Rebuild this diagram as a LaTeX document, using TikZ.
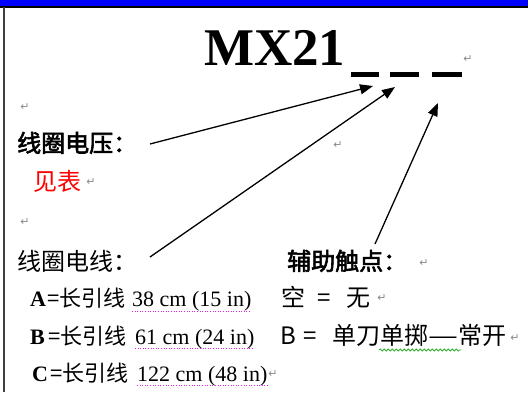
\documentclass[tikz,border=0pt]{standalone}
\usepackage{fontspec}
\setmainfont{Liberation Serif}
\newfontfamily\cjk{Noto Sans CJK SC}
\newfontfamily\cjkb[FakeBold=2.5]{Noto Sans CJK SC}
\newfontfamily\symf{DejaVu Sans}
\usetikzlibrary{arrows.meta,decorations.pathmorphing}
\definecolor{barblue}{HTML}{0000FF}
\definecolor{pmark}{HTML}{8A8A8A}
\definecolor{spellred}{HTML}{E020E0}
\definecolor{gramgreen}{HTML}{30B030}
\tikzset{
  cn/.style={inner sep=0pt, anchor=base west, font=\cjk\fontsize{24pt}{24pt}\selectfont},
  cns/.style={inner sep=0pt, anchor=base west, font=\cjk\fontsize{22pt}{22pt}\selectfont},
  cnb/.style={inner sep=0pt, anchor=base west, font=\cjkb\fontsize{24pt}{24pt}\selectfont},
  lat/.style={inner sep=0pt, anchor=base west, font=\fontsize{22pt}{22pt}\selectfont},
  latb/.style={inner sep=0pt, anchor=base west, font=\bfseries\fontsize{22pt}{22pt}\selectfont},
  pm/.style={inner sep=0pt, text=pmark, font=\symf\fontsize{11pt}{11pt}\selectfont},
  dashbar/.style={fill=black, draw=none, inner sep=0pt, minimum height=5pt},
  pointer/.style={line width=1.3pt, -{Triangle[length=13pt,width=10pt]}},
  spell/.style={spellred, line width=1pt, dash pattern=on 1pt off 1.6pt},
  gram/.style={gramgreen, line width=0.8pt, decorate, decoration={snake, amplitude=1pt, segment length=4pt}}
}
\begin{document}
\begin{tikzpicture}[x=1pt,y=-1pt]
\useasboundingbox (0,0) rectangle (528,392);
% window chrome
\fill[barblue] (0,0) rectangle (528,6.5);
\draw[line width=1.5pt] (0,7) -- (528,7);
\draw[line width=1.5pt, black!75] (4.2,7) -- (4.2,392);
% title
\node[inner sep=0pt, anchor=base west, font=\bfseries\fontsize{53pt}{53pt}\selectfont] (title) at (204,65) {MX21};
\node[dashbar, minimum width=28pt] (d1) at (365,74.5) {};
\node[dashbar, minimum width=29pt] (d2) at (404.5,74.5) {};
\node[dashbar, minimum width=30pt] (d3) at (447,74.5) {};
\node[pm] (p0) at (468,59) {↵};
% left column
\node[pm] (p1) at (25,107) {↵};
\node[cnb] (volt) at (17,152) {线圈电压：};
\node[pm] (p2) at (338,145) {↵};
\node[cn, text=red] (see) at (33,190) {见表};
\node[pm] (p3) at (91,182) {↵};
\node[pm] (p4) at (25,222) {↵};
\node[cn] (wire) at (17,270) {线圈电线：};
\node[cnb] (aux) at (287,270) {辅助触点：};
\node[pm] (p5) at (424,263) {↵};
% option lines
\node[latb] (la) at (30,306) {A};
\node[cns] (la2) at (47,306) {=长引线};
\node[lat] (la3) at (132,306) {38 cm (15 in)};
\node[cn] (ra) at (281,306) {空};
\node[cn] (ra2) at (317,306) {=};
\node[cn] (ra3) at (346,306) {无};
\node[pm] (p6) at (382,298) {↵};
\node[latb] (lb) at (30,344) {B};
\node[cns] (lb2) at (48,344) {=长引线};
\node[lat] (lb3) at (135,344) {61 cm (24 in)};
\node[cn] (rb) at (280,344) {B};
\node[cn] (rb2) at (303,344) {=};
\node[cn] (rb3) at (332,344) {单刀单掷\scalebox{1.4}[1]{—}常开};
\node[pm] (p7) at (515,338) {↵};
\node[latb] (lc) at (32,381) {C};
\node[cns] (lc2) at (50,381) {=长引线};
\node[lat] (lc3) at (137,381) {122 cm (48 in)};
\node[pm] (p8) at (273,374) {↵};
% proofing marks
\draw[spell] (la3.west |- 0,311) -- (la3.east |- 0,311);
\draw[spell] (lb3.west |- 0,348) -- (lb3.east |- 0,348);
\draw[spell] (lc3.west |- 0,385) -- (lc3.east |- 0,385);
\draw[gram] (379,350) -- (461,350);
% arrows
\coordinate (s1) at (150,144);
\coordinate (t1) at (373,86);
\coordinate (s2) at (150,257);
\coordinate (t2) at (395,87);
\coordinate (s3) at (375,244);
\coordinate (t3) at (438,103);
\draw[pointer] (s1) -- (t1);
\draw[pointer] (s2) -- (t2);
\draw[pointer] (s3) -- (t3);
\end{tikzpicture}
\end{document}
